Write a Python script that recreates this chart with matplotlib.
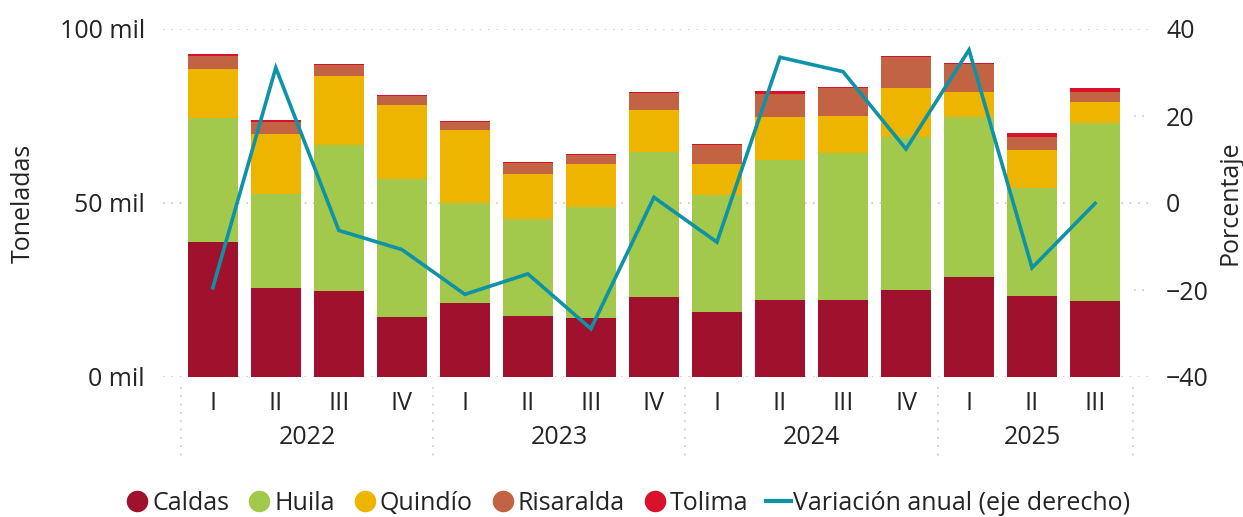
import matplotlib
matplotlib.use("Agg")
import matplotlib.pyplot as plt
import matplotlib.transforms as mtransforms
from matplotlib.lines import Line2D
import numpy as np

plt.rcParams['font.family'] = ['Open Sans', 'DejaVu Sans']

quarters = ["I", "II", "III", "IV", "I", "II", "III", "IV", "I", "II", "III", "IV", "I", "II", "III"]
years = ["2022", "2023", "2024", "2025"]
year_spans = [(0, 3), (4, 7), (8, 11), (12, 14)]

caldas    = [38.9, 25.7, 24.8, 17.3, 21.3, 17.5, 17.0, 23.0, 18.7, 22.1, 22.1, 25.0, 28.7, 23.3, 21.8]
huila     = [35.6, 27.0, 41.9, 39.6, 28.7, 27.9, 31.9, 41.7, 33.6, 40.3, 42.3, 43.9, 46.0, 31.1, 51.2]
quindio   = [14.0, 17.1, 19.9, 21.3, 21.0, 12.9, 12.3, 12.0, 8.9, 12.3, 10.6, 14.1, 7.2, 10.8, 6.0]
risaralda = [3.8, 3.5, 3.1, 2.6, 2.4, 3.3, 2.7, 5.0, 5.6, 6.7, 8.1, 8.9, 8.0, 3.8, 2.9]
tolima    = [0.5, 0.6, 0.3, 0.3, 0.3, 0.2, 0.2, 0.2, 0.2, 0.8, 0.2, 0.2, 0.3, 1.1, 1.1]
variacion = [-19.5, 31.1, -6.3, -10.7, -21.0, -16.3, -28.9, 1.3, -9.0, 33.5, 30.2, 12.4, 35.2, -14.9, -0.1]

series = [("Caldas", caldas, "#A0112E"), ("Huila", huila, "#A2C84C"),
          ("Quindío", quindio, "#EDB500"), ("Risaralda", risaralda, "#C26344"),
          ("Tolima", tolima, "#D9112B")]
line_color = "#0E93A6"
txt = "#252423"
fs = 18

fig = plt.figure(figsize=(12.43, 5.17), dpi=100)
ax = fig.add_axes([163/1243, 140/517, 985/1243, 348/517])
x = np.arange(len(quarters))

bottom = np.zeros(len(x))
for name, vals, col in series:
    v = np.array(vals)
    ax.bar(x, v, bottom=bottom, width=0.79, color=col, label=name, zorder=2)
    bottom += v

ax.set_ylim(0, 100)
ax.set_xlim(-0.79, 14.84)
ax.set_yticks([0, 50, 100])
ax.set_yticklabels(["0 mil", "50 mil", "100 mil"])
ax.grid(axis='y', color='#C8C8C8', linestyle=(0, (1, 4)), linewidth=1.2, zorder=0)
for s in ax.spines.values():
    s.set_visible(False)
ax.tick_params(axis='y', length=0, pad=13, labelsize=fs, labelcolor=txt)
ax.set_xticks(x)
ax.set_xticklabels(quarters)
ax.tick_params(axis='x', length=0, pad=10, labelsize=fs, labelcolor=txt)
ax.set_ylabel("Toneladas", fontsize=fs, color=txt, labelpad=17)

trans = mtransforms.blended_transform_factory(ax.transData, ax.transAxes)
for xs in [-0.5, 3.5, 7.5, 11.5, 14.6]:
    ax.plot([xs, xs], [-0.03, -0.24], transform=trans, clip_on=False,
            color='#C8C8C8', linestyle=(0, (1, 4)), linewidth=1.2)
for yr, (a, b) in zip(years, year_spans):
    ax.text((a + b) / 2, -0.175, yr, transform=trans, ha='center', va='center',
            fontsize=fs, color=txt)

ax2 = ax.twinx()
ax2.plot(x, variacion, color=line_color, linewidth=2.6, zorder=5,
         solid_joinstyle='miter')
ax2.set_ylim(-40, 40)
ax2.set_yticks([-40, -20, 0, 20, 40])
ax2.tick_params(axis='y', length=0, pad=13, labelsize=fs, labelcolor=txt)
for s in ax2.spines.values():
    s.set_visible(False)
ax2.set_ylabel("Porcentaje", fontsize=fs, color=txt, labelpad=6)
for yv in [-20, 20]:
    ax2.plot([14.62, 14.84], [yv, yv], color='#C8C8C8', linestyle=(0, (1, 4)),
             linewidth=1.2, zorder=0)

handles = [Line2D([0], [0], marker='o', linestyle='none', markersize=14.5,
                  markerfacecolor=col, markeredgecolor=col) for _, _, col in series]
labels = [n for n, _, _ in series]
handles.append(Line2D([0], [0], color=line_color, linewidth=3))
labels.append("Variación anual (eje derecho)")
fig.legend(handles, labels, loc='center', bbox_to_anchor=(0.505, 0.027), ncol=6,
           frameon=False, fontsize=fs, handletextpad=0.1, columnspacing=0.7,
           handlelength=1.0, labelcolor=txt)

fig.savefig("out.png", dpi=100)
